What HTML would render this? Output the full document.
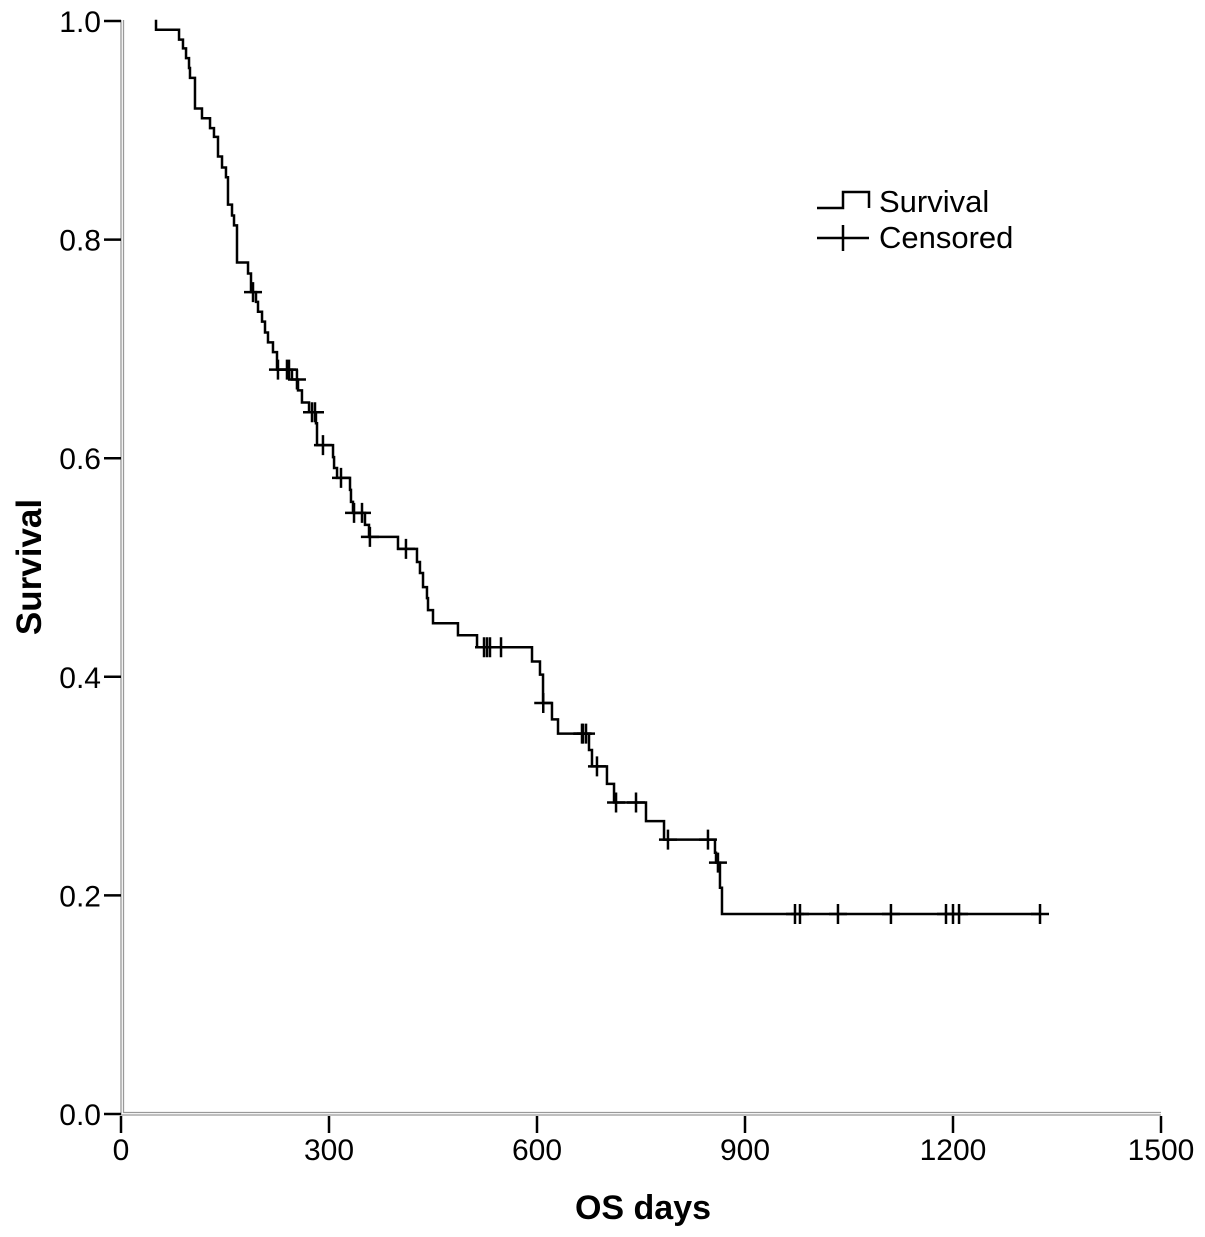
<!DOCTYPE html>
<html><head><meta charset="utf-8"><style>
html,body{margin:0;padding:0;background:#fff;}
svg{display:block;font-family:"Liberation Sans",Arial,sans-serif;}
</style></head><body>
<svg id="chart" width="1205" height="1237" viewBox="0 0 1205 1237" xmlns="http://www.w3.org/2000/svg">
<g id="axes"></g>
<g id="plot"></g>
<text x="643" y="1219" font-size="34" font-weight="bold" text-anchor="middle">OS days</text>
<text transform="translate(41,567) rotate(-90)" font-size="35" font-weight="bold" text-anchor="middle">Survival</text>
<g>
<path d="M817 208 H843 V192 H869 V208" fill="none" stroke="#000" stroke-width="2.5"/>
<text x="879" y="212" font-size="31">Survival</text>
<path d="M817 238 H869 M843 225 V251" fill="none" stroke="#000" stroke-width="2.5"/>
<text x="879" y="248" font-size="31">Censored</text>
</g>
</svg>
<script>
const eventDays = [50.5,83.7,89.4,93.8,98.1,99.5,106.7,116.8,128.4,134.1,139.9,145.7,151.4,154.3,160.1,163.0,167.3,183.2,187.5,194.7,197.6,203.4,207.7,212.0,219.2,225.0,246.6,255.3,261.0,271.2,281.2,282.7,305.8,307.3,311.6,330.3,331.7,334.6,351.9,357.7,399.5,426.9,431.2,435.6,441.3,442.8,450.0,486.0,513.5,592.8,604.3,608.7,621.6,630.3,675.0,679.3,700.9,711.1,757.2,783.2,856.7,858.2,863.9,866.8];
const survivalValues = [0.992,0.983,0.975,0.966,0.957,0.948,0.920,0.911,0.902,0.894,0.876,0.866,0.857,0.832,0.822,0.813,0.779,0.769,0.752,0.743,0.734,0.725,0.715,0.706,0.697,0.681,0.672,0.662,0.651,0.642,0.632,0.612,0.601,0.591,0.582,0.571,0.560,0.550,0.539,0.528,0.517,0.505,0.495,0.482,0.472,0.461,0.449,0.438,0.427,0.414,0.402,0.376,0.361,0.348,0.333,0.318,0.302,0.285,0.268,0.251,0.239,0.230,0.207,0.183];
const censorDays = [190.4,226.4,239.4,242.3,253.8,275.5,279.8,291.3,317.3,336.1,347.6,359,411.0,523.6,527.9,532.2,548.1,609,664.9,666.3,670.7,686.5,714.0,742.8,788.9,846.6,861.0,972.1,979.3,1034.1,1110.5,1189.9,1200.0,1208.7,1325.5];
const xTicks = [0,300,600,900,1200,1500];
const yTicks = [0.0,0.2,0.4,0.6,0.8,1.0];
const yTickLabels = ["0.0","0.2","0.4","0.6","0.8","1.0"];

const NS="http://www.w3.org/2000/svg";
const x = d => 121 + d*(1040/1500);
const y = s => 1114 - s*1093;
const axes=document.getElementById('axes'), plot=document.getElementById('plot');
function mk(tag, attrs, parent){const e=document.createElementNS(NS,tag);for(const k in attrs)e.setAttribute(k,attrs[k]);parent.appendChild(e);return e;}

let a=mk('path',{d:'M121 20 V1115 H1161 M123.5 20 V1112.5 H1161',fill:'none',stroke:'#999','stroke-width':1.3},axes);


xTicks.forEach(t=>{
  const l=mk('line',{x1:x(t),x2:x(t),y1:1116,y2:1133,stroke:'#000','stroke-width':2.5},axes);
  
  
  const tx=mk('text',{x:x(t),y:1160,'font-size':30,'text-anchor':'middle'},axes);
  tx.textContent=String(t);
  
  
});
yTicks.forEach((t,i)=>{
  const l=mk('line',{x1:104,x2:121,y1:y(t),y2:y(t),stroke:'#000','stroke-width':2.5},axes);
  
  
  const tx=mk('text',{x:101,y:y(t)+11,'font-size':30,'text-anchor':'end'},axes);
  tx.textContent=yTickLabels[i];
  
  
});
let d='M'+x(eventDays[0])+' '+(y(survivalValues[0])-10)+' V'+y(survivalValues[0]);
for(let i=1;i<eventDays.length;i++){d+=' H'+x(eventDays[i])+' V'+y(survivalValues[i]);}
d+=' H'+x(censorDays[censorDays.length-1]);
const p=mk('path',{d:d,fill:'none',stroke:'#000','stroke-width':2.5},plot);


function survAt(t){let s=survivalValues[0];for(let i=0;i<eventDays.length;i++){if(eventDays[i]<=t)s=survivalValues[i];}return s;}
censorDays.forEach(c=>{
  const cx=x(c), cy=y(survAt(c));
  const m=mk('path',{d:`M${cx-9} ${cy} H${cx+9} M${cx} ${cy-10} V${cy+10}`,fill:'none',stroke:'#000','stroke-width':2.5},plot);
  
  
});
</script>
</body></html>
